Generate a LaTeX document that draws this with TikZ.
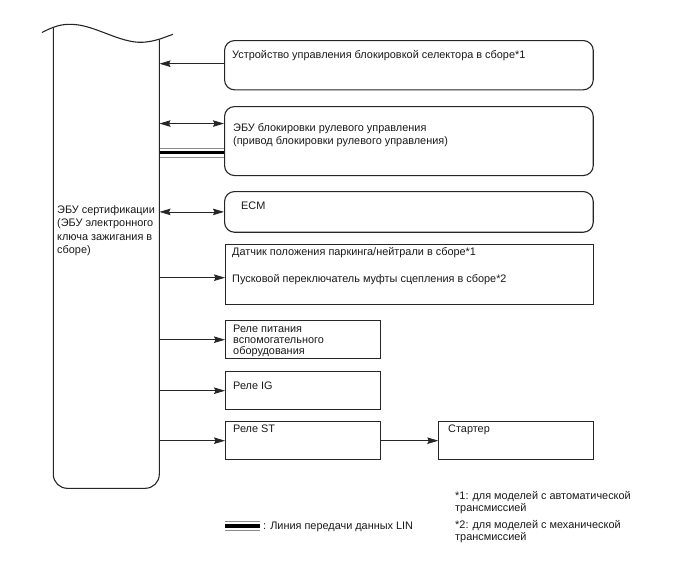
\documentclass[tikz,border=0pt]{standalone}
\usepackage{fontspec}
\setmainfont{Liberation Sans}
\usetikzlibrary{arrows.meta}
\tikzset{
  x=1pt, y=-1pt,
  txt/.style={anchor=base west, inner sep=0pt, font=\fontsize{10.9}{12}\selectfont, text=black!90},
  rbox/.style={draw=black!85, line width=1.1pt, rounded corners=10pt, anchor=north west, inner sep=0pt, minimum width=368.7pt},
  sbox/.style={draw=black!85, line width=1.1pt, anchor=north west, inner sep=0pt, minimum width=155pt, minimum height=38.3pt},
  tipA/.tip={Stealth[length=11pt,width=6.5pt,inset=1.5pt]},
  conn/.style={draw=black!85, line width=0.8pt, -tipA},
  dconn/.style={draw=black!85, line width=0.8pt, tipA-tipA},
  lingrey/.style={draw=black!45, line width=0.9pt},
  linblack/.style={draw=black, line width=3.2pt},
}
\begin{document}
\begin{tikzpicture}
\useasboundingbox (0,0) rectangle (688,560);

% ECU block (outline drawn as a shape, anchors from an invisible node)
\node[inner sep=0pt, minimum width=106pt, minimum height=460pt] (ecu) at (106.3,258) {};
\draw[black!85, line width=1.1pt] (42,32.5) .. controls (58,24) and (66,24) .. (74,24.5)
   .. controls (95,25.5) and (120,43) .. (142,42.3)
   .. controls (155,41.8) and (165,37) .. (173,34.3);
\draw[black!85, line width=1.1pt, rounded corners=14pt] (53.3,28) -- (53.3,488.3) -- (159.3,488.3) -- (159.3,39.3);

\node[txt] (e1) at (57,213.5) {ЭБУ сертификации};
\node[txt] (e2) at (57,226.7) {(ЭБУ электронного};
\node[txt] (e3) at (57,240) {ключа зажигания в};
\node[txt] (e4) at (57,253.2) {сборе)};

% boxes
\node[rbox, minimum height=49.3pt] (b1) at (224,40) {};
\node[rbox, minimum height=69pt] (b2) at (224,106) {};
\node[rbox, minimum height=40.7pt] (b3) at (224,191) {};
\node[sbox, minimum width=367.7pt, minimum height=59.7pt] (b4) at (225,244.3) {};
\node[sbox] (b5) at (225,320) {};
\node[sbox] (b6) at (225,371) {};
\node[sbox] (b7) at (225,421) {};
\node[sbox, minimum width=154.4pt] (b8) at (438.3,421) {};

% texts in boxes
\node[txt] (t1) at (232,58) {Устройство управления блокировкой селектора в сборе*1};
\node[txt] (t2a) at (233,131) {ЭБУ блокировки рулевого управления};
\node[txt] (t2b) at (233,144.5) {(привод блокировки рулевого управления)};
\node[txt] (t3) at (241,209) {ECM};
\node[txt] (t4a) at (232,255.7) {Датчик положения паркинга/нейтрали в сборе*1};
\node[txt] (t4b) at (232,282.4) {Пусковой переключатель муфты сцепления в сборе*2};
\node[txt] (t5a) at (233,332.4) {Реле питания};
\node[txt] (t5b) at (233,343.3) {вспомогательного};
\node[txt] (t5c) at (233,354.2) {оборудования};
\node[txt] (t6) at (233,389) {Реле IG};
\node[txt] (t7) at (233,432) {Реле ST};
\node[txt] (t8) at (448,432) {Стартер};

% connectors
\draw[conn] ([yshift=1.5pt]b1.west) -- ([yshift=1.5pt]b1.west -| ecu.east);
\draw[dconn] ([yshift=17.5pt]b2.west -| ecu.east) -- ([yshift=17.5pt]b2.west);
\draw[lingrey] ([yshift=-7.3pt]b2.west -| ecu.east) -- ([yshift=-7.3pt]b2.west);
\draw[linblack] ([yshift=-11.2pt]b2.west -| ecu.east) -- ([yshift=-11.2pt]b2.west);
\draw[lingrey] ([yshift=-16.8pt]b2.west -| ecu.east) -- ([yshift=-16.8pt]b2.west);
\draw[dconn] (b3.west -| ecu.east) -- (b3.west);
\draw[conn] ([yshift=-3pt]b4.west -| ecu.east) -- ([yshift=-3pt]b4.west);
\draw[conn] (b5.west -| ecu.east) -- (b5.west);
\draw[conn] (b6.west -| ecu.east) -- (b6.west);
\draw[conn] (b7.west -| ecu.east) -- (b7.west);
\draw[conn] (b7.east) -- (b8.west);

% legend
\coordinate (lg1) at (225,526);
\coordinate (lg2) at (260,526);
\draw[lingrey] ([yshift=4.5pt]lg1) -- ([yshift=4.5pt]lg2);
\draw[linblack] (lg1) -- (lg2);
\draw[lingrey] ([yshift=-4.5pt]lg1) -- ([yshift=-4.5pt]lg2);
\node[txt] (lgt) at (263,529) {: Линия передачи данных LIN};

\node[txt] (f1a) at (455,499) {*1: для моделей с автоматической};
\node[txt] (f1b) at (455,511.5) {трансмиссией};
\node[txt] (f2a) at (455,528.5) {*2: для моделей с механической};
\node[txt] (f2b) at (455,540.5) {трансмиссией};
\end{tikzpicture}
\end{document}
